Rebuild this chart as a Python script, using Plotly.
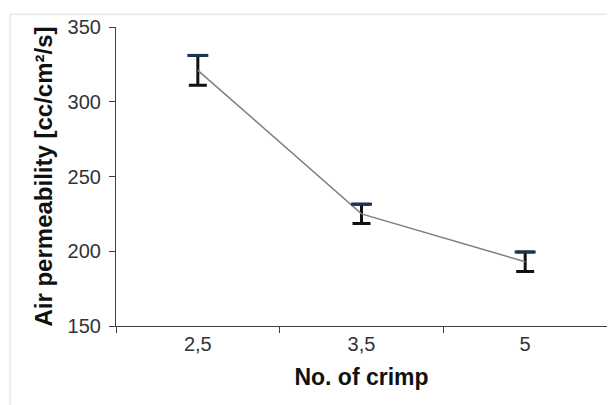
import plotly.graph_objects as go

categories = ["2,5", "3,5", "5"]
values = [321, 225, 193]
errors = [10, 6.5, 6.5]
y_ticks = [150, 200, 250, 300, 350]

top_caps = [v + e for v, e in zip(values, errors)]

# page has an 8px body margin; compensate so the plot lands where the reference has it
OFF = 8
W, H = 615 - OFF, 405 - OFF
ml, mt = 116 - OFF, 22 - OFF
pw, ph = 491, 304
mr = W - ml - pw
mb = H - mt - ph

fig = go.Figure()
fig.add_trace(go.Scatter(
    x=categories, y=values, mode="lines",
    line=dict(color="#7f7f7f", width=1.5),
    error_y=dict(type="data", array=errors, symmetric=True,
                 color="#111111", thickness=3, width=9),
    showlegend=False, hoverinfo="skip",
))
fig.add_trace(go.Scatter(
    x=categories, y=top_caps, mode="markers",
    marker=dict(symbol="line-ew", size=15,
                line=dict(color="#1c3556", width=3)),
    showlegend=False, hoverinfo="skip",
))

font = "Liberation Sans, Arial, sans-serif"
fig.update_layout(
    width=W, height=H,
    margin=dict(l=ml, r=mr, t=mt, b=mb),
    paper_bgcolor="white", plot_bgcolor="white",
    font=dict(family=font, color="#333333"),
    xaxis=dict(
        type="category", range=[-0.5, 2.5],
        showline=True, linecolor="#404040", linewidth=1.2,
        ticks="outside", ticklen=6, tickcolor="#404040", tickwidth=1.2,
        tickson="boundaries", showgrid=False, zeroline=False,
        tickfont=dict(size=20, family=font, color="#333333"),
        title=dict(text="<b>No. of crimp</b>", standoff=14,
                   font=dict(size=23, family=font, color="#111111")),
    ),
    yaxis=dict(
        range=[150, 350], tickvals=y_ticks,
        showline=True, linecolor="#404040", linewidth=1.2,
        ticks="outside", ticklen=6, tickcolor="#404040", tickwidth=1.2,
        showgrid=False, zeroline=False, ticklabelstandoff=4,
        tickfont=dict(size=20, family=font, color="#333333"),
        title=dict(text="<b>Air permeability [cc/cm²/s]</b>", standoff=8,
                   font=dict(size=24, family=font, color="#111111")),
    ),
    shapes=[dict(
        type="rect", xref="paper", yref="paper",
        x0=(10 - OFF - ml) / pw, x1=(614 - OFF - ml) / pw,
        y0=-0.4, y1=(H - mb - (9 - OFF)) / ph,
        line=dict(color="#dedede", width=1), layer="below",
    )],
)

fig.write_html("out.html")
